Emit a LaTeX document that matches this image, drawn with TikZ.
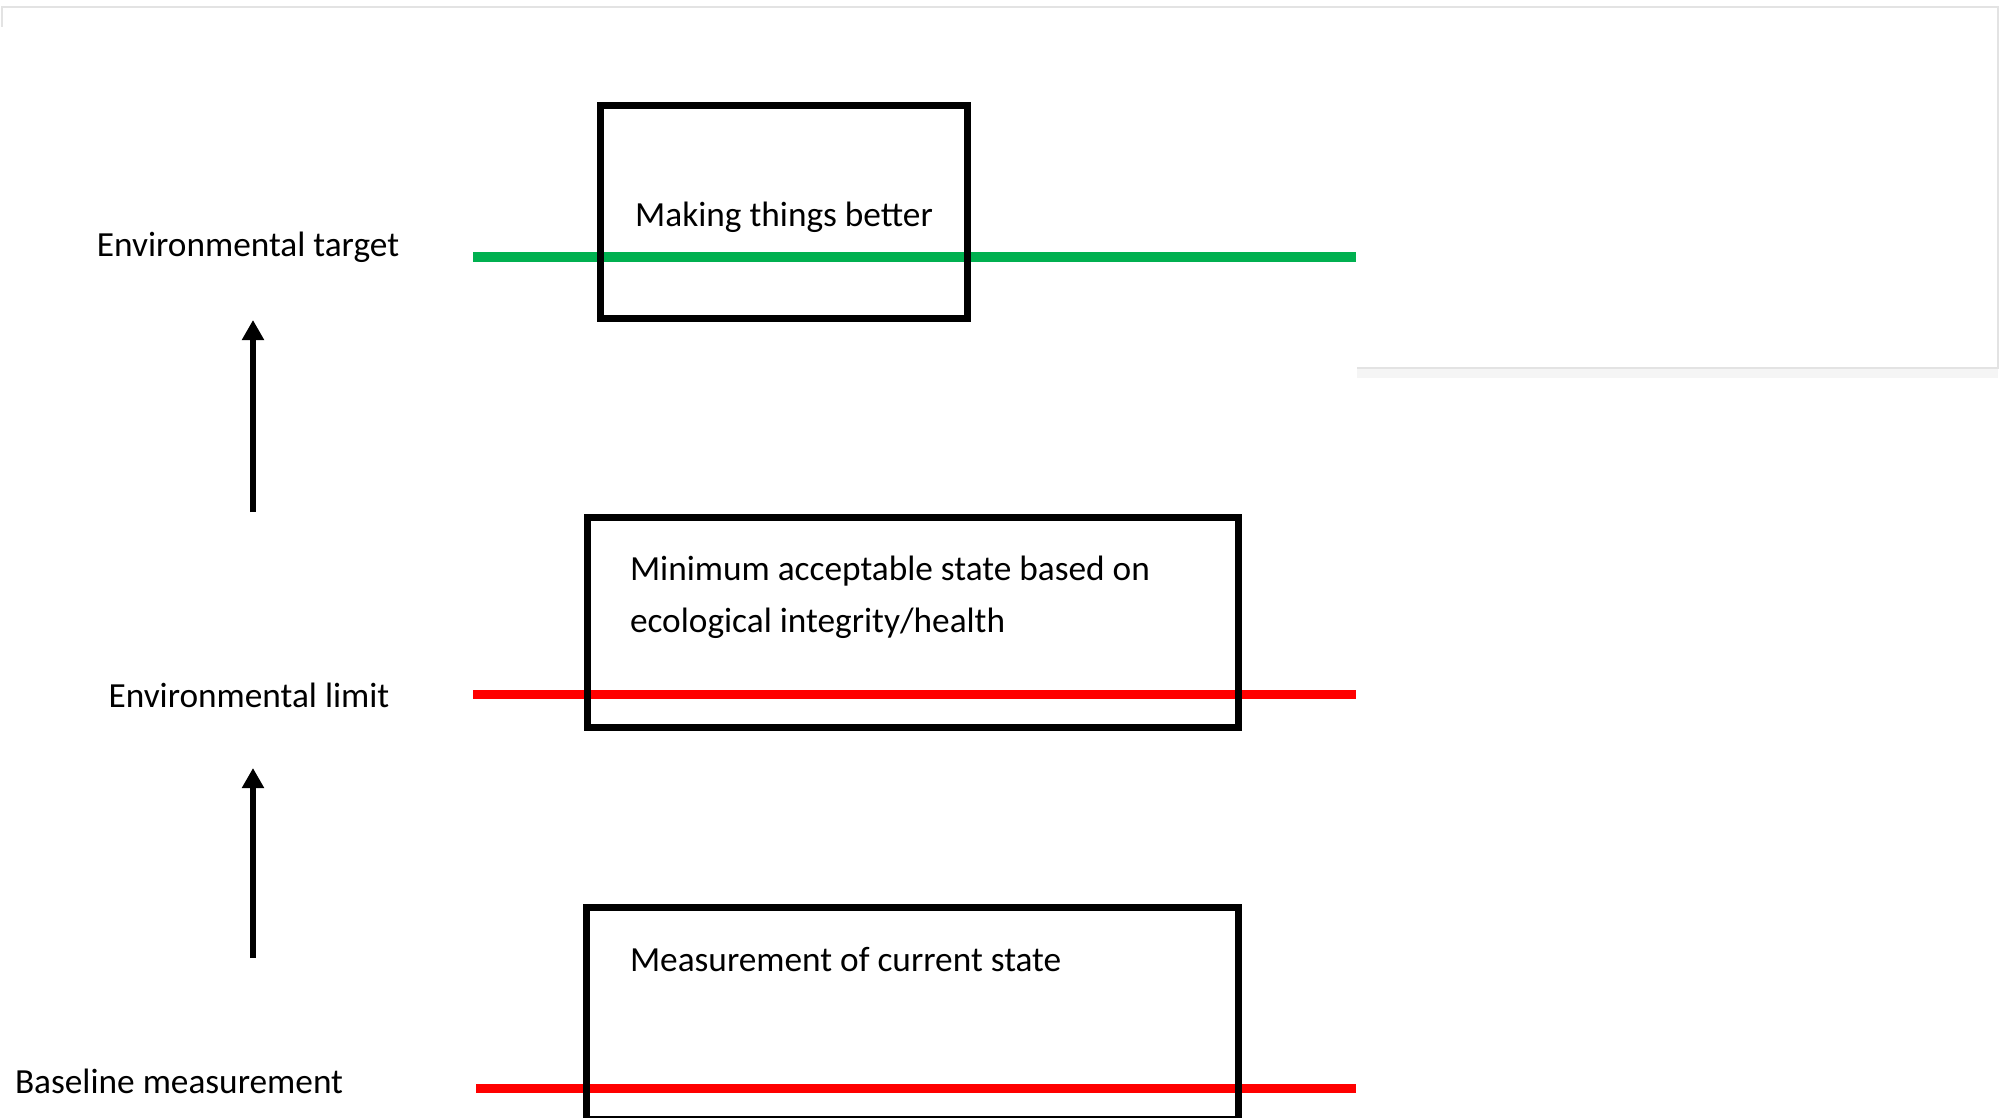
\documentclass[tikz,border=0pt]{standalone}
\usepackage{fontspec}
\setmainfont{Carlito}
\usetikzlibrary{arrows.meta}
\definecolor{lgreen}{HTML}{00B050}
\definecolor{lred}{HTML}{FF0000}
\definecolor{framegray}{HTML}{E3E3E3}
\begin{document}
\begin{tikzpicture}[x=1pt,y=-1pt,
  levelbox/.style={draw=black, line width=7pt, inner sep=0pt, outer sep=0pt},
  lbl/.style={inner sep=0pt, outer sep=0pt, font=\fontsize{35.3}{48}\selectfont},
  levelline/.style={line width=9pt},
  uparrow/.style={line width=6pt, -{Triangle[width=21pt,length=20pt]}}]
\useasboundingbox (0,0) rectangle (2000,1118);
% faint frame
\draw[framegray, line width=2pt] (2,27) -- (2,7) -- (1998,7) -- (1998,368) -- (1357,368);
\fill[black!4] (1357,369) rectangle (1998,378);
% level lines
\coordinate (g1) at (473,257); \coordinate (g2) at (1356,257);
\coordinate (r1) at (473,694); \coordinate (r2) at (1356,694);
\coordinate (b1) at (476,1088); \coordinate (b2) at (1356,1088);
\draw[levelline, lgreen] (g1) -- (g2);
\draw[levelline, lred] (r1) -- (r2);
\draw[levelline, lred] (b1) -- (b2);
% boxes
\node[levelbox, minimum width=367pt, minimum height=213pt] (box1) at (784,212) {};
\node[levelbox, minimum width=651pt, minimum height=210pt] (box2) at (913,622.5) {};
\node[levelbox, minimum width=652pt, minimum height=211.5pt] (box3) at (912.5,1013.25) {};
% box texts
\node[lbl, anchor=base] (t1) at (784,226) {Making things better};
\node[lbl, anchor=base west] (t2a) at (630,580) {Minimum acceptable state based on};
\node[lbl, anchor=base west] (t2b) at (630,632) {ecological integrity/health};
\node[lbl, anchor=base west] (t3) at (630,971) {Measurement of current state};
% left labels
\node[lbl, anchor=base] (l1) at (248,257) {Environmental target};
\node[lbl, anchor=base] (l2) at (249,707) {Environmental limit};
\node[lbl, anchor=base west] (l3) at (15,1093) {Baseline measurement};
% arrows
\coordinate (a1s) at (253,512); \coordinate (a1e) at (253,320);
\coordinate (a2s) at (253,958); \coordinate (a2e) at (253,768);
\draw[uparrow] (a1s) -- (a1e);
\draw[uparrow] (a2s) -- (a2e);
\end{tikzpicture}
\end{document}
